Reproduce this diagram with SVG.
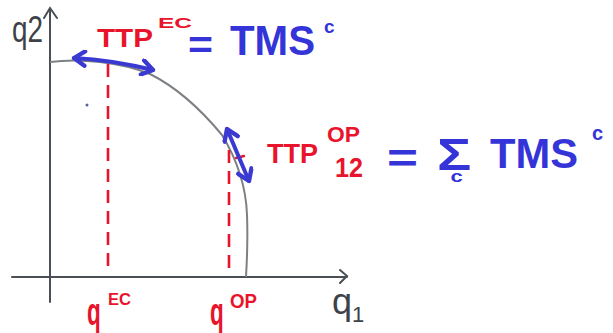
<svg xmlns="http://www.w3.org/2000/svg" width="613" height="333" viewBox="0 0 613 333">
<defs>
<style>
.axis{stroke:#4a4f55;stroke-width:2;fill:none;stroke-linecap:round}
.curve{stroke:#7d8084;stroke-width:2;fill:none}
.dash{stroke:#e8142c;stroke-width:2.6;fill:none;stroke-dasharray:13 8}
.barrow{stroke:#3a3ad2;stroke-width:4;fill:none;stroke-linecap:round;marker-start:url(#chev);marker-end:url(#chev)}
.red{fill:#e8142c;font-family:"Liberation Sans",Arial,sans-serif;font-weight:bold}
.blue{fill:#3434d8;font-family:"Liberation Sans",Arial,sans-serif;font-weight:bold}
.hand{fill:#3c4248;font-family:"Liberation Sans",Arial,sans-serif}
</style>
<marker id="chev" viewBox="0 0 10 10" refX="8" refY="5" markerWidth="4.5" markerHeight="4.5" orient="auto-start-reverse" markerUnits="strokeWidth">
<polyline points="2,1 8,5 2,9" fill="none" stroke="#3a3ad2" stroke-width="2.4" stroke-linecap="round" stroke-linejoin="round"/>
</marker>
</defs>
<rect width="613" height="333" fill="#ffffff"/>
<g id="axes">
<path class="axis" d="M50,302 L50,9 M44,18 L50,8 L57,18"/>
<path class="axis" d="M12,277 L347,277 M340,270 L347,276 L340,283"/>
<text class="hand" x="12" y="42" font-size="36" textLength="31" lengthAdjust="spacingAndGlyphs">q2</text>
<text class="hand" x="332" y="314" font-size="36">q<tspan font-size="22" dy="8">1</tspan></text>
</g>
<g id="frontier">
<path class="curve" d="M50,62 C80,58 120,62 150,74 C178,88 203,112 222,135 C236,158 246,185 247,215 C248,240 247,260 246,277"/>
<circle cx="87" cy="105" r="1.5" fill="#5a5fa0"/>
</g>
<g id="connectors">
<path class="dash" d="M108,64 L108,272"/>
<path class="dash" d="M229,150 L229,272"/>
<path d="M236,158 L244,156" stroke="#e8142c" stroke-width="2.4" stroke-linecap="round"/>
<path class="barrow" d="M74,58 Q112,60 153,70"/>
<path class="barrow" d="M227,129 L249,181"/>
</g>
<g id="label-ec">
<text class="red" x="97" y="47" font-size="26" textLength="56" lengthAdjust="spacingAndGlyphs">TTP</text>
<text class="red" x="158" y="28" font-size="14" textLength="34" lengthAdjust="spacingAndGlyphs">EC</text>
<text class="blue" x="188" y="58" font-size="38" textLength="25" lengthAdjust="spacingAndGlyphs">=</text>
<text class="blue" x="230" y="55" font-size="42" textLength="85" lengthAdjust="spacingAndGlyphs">TMS</text>
<text class="blue" x="324" y="33" font-size="19">c</text>
</g>
<g id="label-op">
<text class="red" x="267" y="163" font-size="27" textLength="51" lengthAdjust="spacingAndGlyphs">TTP</text>
<text class="red" x="327" y="142" font-size="22" textLength="33" lengthAdjust="spacingAndGlyphs">OP</text>
<text class="red" x="335" y="177" font-size="27" textLength="28" lengthAdjust="spacingAndGlyphs">12</text>
<text class="blue" x="387" y="172" font-size="40" textLength="31" lengthAdjust="spacingAndGlyphs">=</text>
<text class="blue" transform="translate(437,170) scale(1.3,1)" font-size="44">Σ<tspan font-size="17" dx="-16" dy="12">c</tspan></text>
<text class="blue" x="490" y="168" font-size="43" textLength="88" lengthAdjust="spacingAndGlyphs">TMS</text>
<text class="blue" x="592" y="140" font-size="20">c</text>
</g>
<g id="label-qec">
<text class="red" transform="translate(87,325) scale(0.75,1.3)" font-size="30">q</text>
<text class="red" x="108" y="305" font-size="16" textLength="23" lengthAdjust="spacingAndGlyphs">EC</text>
</g>
<g id="label-qop">
<text class="red" transform="translate(210,325) scale(0.75,1.3)" font-size="30">q</text>
<text class="red" x="230" y="308" font-size="20" textLength="27" lengthAdjust="spacingAndGlyphs">OP</text>
</g>
</svg>
